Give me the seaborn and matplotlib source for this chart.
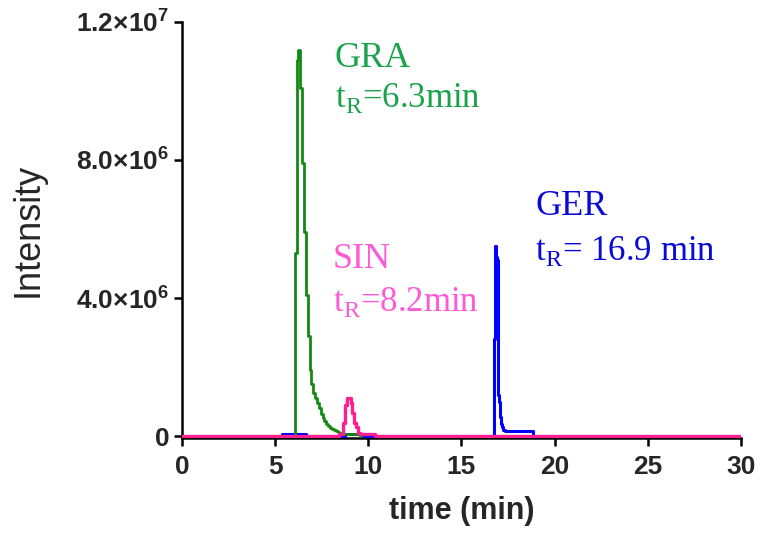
import matplotlib
matplotlib.use("Agg")
import matplotlib.pyplot as plt
import numpy as np
import pandas as pd
import seaborn as sns

# --- chromatogram traces (time in min, intensity in counts) ---
gra_time = [5.9, 6.0, 6.1, 6.2, 6.3, 6.4, 6.5, 6.6, 6.7, 6.8, 6.9, 7.0, 7.1, 7.2,
            7.3, 7.4, 7.5, 7.6, 7.7, 7.8, 7.9, 8.0, 8.1, 8.2, 8.3, 8.4, 8.5, 8.6,
            9.5, 9.6]
gra_intensity = [0.0, 0.0, 5.3e6, 10.9e6, 11.2e6, 10.1e6, 7.9e6, 5.9e6, 4.1e6,
                 2.9e6, 1.9e6, 1.5e6, 1.25e6, 1.1e6, 0.95e6, 0.8e6, 0.65e6,
                 0.52e6, 0.44e6, 0.36e6, 0.30e6, 0.24e6, 0.20e6, 0.17e6, 0.14e6,
                 0.12e6, 0.10e6, 0.05e6, 0.05e6, 0.0]

sin_time = [0.0, 8.4, 8.5, 8.6, 8.7, 8.8, 8.9, 9.0, 9.1, 9.2, 9.3, 9.4, 9.5,
            9.6, 10.3, 10.4, 30.0]
sin_intensity = [0.0, 0.0, 0.06e6, 0.06e6, 0.38e6, 0.9e6, 1.1e6, 1.1e6, 0.95e6,
                 0.67e6, 0.38e6, 0.25e6, 0.10e6, 0.06e6, 0.06e6, 0.0, 0.0]

ger_time = [5.3, 5.4, 6.6, 6.7, 8.7, 8.8, 9.6, 9.7, 16.75, 16.8, 16.85, 16.9,
            16.95, 17.0, 17.05, 17.1, 17.15, 17.2, 17.3, 17.4, 18.8, 18.9]
ger_intensity = [0.0, 0.06e6, 0.06e6, 0.0, 0.0, 0.06e6, 0.06e6, 0.0, 0.0,
                 2.8e6, 5.5e6, 5.2e6, 5.1e6, 1.2e6, 1.0e6, 0.55e6, 0.35e6,
                 0.25e6, 0.18e6, 0.15e6, 0.15e6, 0.0]

compounds = ["GER", "GRA", "SIN"]
line_colors = ["#0000ff", "#138a13", "#ff1f8e"]
line_widths = [2.2, 2.0, 2.4]
text_colors = ["#0a0ad8", "#1aa34a", "#ff5ad6"]
name_labels = ["GER", "GRA", "SIN"]
rt_labels = [r"t$_{\mathrm{R}}$= 16.9 min", r"t$_{\mathrm{R}}$=6.3min",
             r"t$_{\mathrm{R}}$=8.2min"]
label_anchor_time = [18.95, 8.21, 8.1]
name_anchor_intensity = [6.41e6, 10.7e6, 4.87e6]
rt_anchor_intensity = [5.10e6, 9.54e6, 3.62e6]

x_ticks = [0, 5, 10, 15, 20, 25, 30]
y_ticks = [0, 4e6, 8e6, 1.2e7]
y_tick_labels = ["0", r"$\mathbf{4.0{\times}10^{6}}$",
                 r"$\mathbf{8.0{\times}10^{6}}$", r"$\mathbf{1.2{\times}10^{7}}$"]

frames = []
for name, t, y in [("GER", ger_time, ger_intensity),
                   ("GRA", gra_time, gra_intensity),
                   ("SIN", sin_time, sin_intensity)]:
    frames.append(pd.DataFrame({"time": t, "intensity": y, "compound": name}))
df = pd.concat(frames, ignore_index=True)

sns.set_theme(style="ticks")
plt.rcParams["font.family"] = ["Liberation Sans", "DejaVu Sans"]
plt.rcParams["mathtext.fontset"] = "custom"
plt.rcParams["mathtext.rm"] = "Liberation Serif"
plt.rcParams["mathtext.bf"] = "Liberation Sans:bold"

fig = plt.figure(figsize=(7.63, 5.39), dpi=100)
ax = fig.add_axes([0.2385, 0.1866, 0.7325, 0.7726])

for name, color, lw in zip(compounds, line_colors, line_widths):
    sub = df[df["compound"] == name]
    sns.lineplot(data=sub, x="time", y="intensity", color=color, ax=ax,
                 estimator=None, sort=False, linewidth=lw,
                 drawstyle="steps-mid", legend=False)

ax.set_xlim(0, 30)
ax.set_ylim(-0.07e6, 1.2e7)
ax.set_xticks(x_ticks)
ax.set_xticklabels([str(v) for v in x_ticks], fontsize=19, fontweight="bold")
ax.set_yticks(y_ticks)
ax.set_yticklabels(y_tick_labels, fontsize=19, fontweight="bold")
ax.tick_params(axis="both", direction="out", length=6, width=1.8,
               color="black", pad=3)
ax.tick_params(axis="x", pad=6)

for side in ["top", "right"]:
    ax.spines[side].set_visible(False)
for side in ["left", "bottom"]:
    ax.spines[side].set_linewidth(1.8)
    ax.spines[side].set_color("black")
    ax.spines[side].set_zorder(0.5)

ax.set_xlabel("time (min)", fontsize=22, fontweight="bold", labelpad=12)
ax.set_ylabel("Intensity", fontsize=26, labelpad=22)

for name, rt, tx, ny, ry, c in zip(name_labels, rt_labels, label_anchor_time,
                                   name_anchor_intensity, rt_anchor_intensity,
                                   text_colors):
    ax.text(tx, ny, name, color=c, fontsize=26, family="Liberation Serif",
            va="baseline", ha="left")
    ax.text(tx, ry, rt, color=c, fontsize=25, family="Liberation Serif",
            va="baseline", ha="left")

fig.savefig("out.png", dpi=100, facecolor="white")
